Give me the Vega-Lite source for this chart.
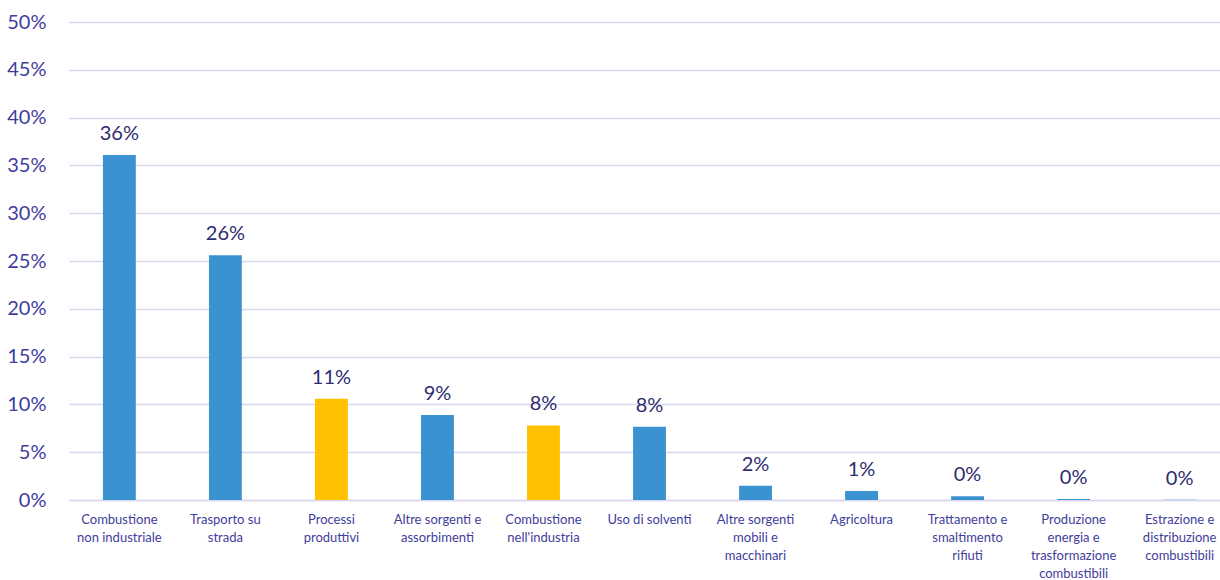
{
  "$schema": "https://vega.github.io/schema/vega-lite/v6.json",
  "width": 1220,
  "height": 580,
  "autosize": {"type": "fit", "contains": "padding"},
  "padding": {"left": 6, "top": 12, "right": -10, "bottom": 0},
  "background": "white",
  "config": {"view": {"stroke": null}, "font": "Lato"},
  "data": {
    "values": [
      {"settore": "Combustione|non industriale", "quota": 0.361, "gruppo": "altro"},
      {"settore": "Trasporto su|strada", "quota": 0.256, "gruppo": "altro"},
      {"settore": "Processi|produttivi", "quota": 0.106, "gruppo": "evidenziato"},
      {"settore": "Altre sorgenti e|assorbimenti", "quota": 0.089, "gruppo": "altro"},
      {"settore": "Combustione|nell'industria", "quota": 0.078, "gruppo": "evidenziato"},
      {"settore": "Uso di solventi", "quota": 0.0765, "gruppo": "altro"},
      {"settore": "Altre sorgenti|mobili e|macchinari", "quota": 0.015, "gruppo": "altro"},
      {"settore": "Agricoltura", "quota": 0.0095, "gruppo": "altro"},
      {"settore": "Trattamento e|smaltimento|rifiuti", "quota": 0.004, "gruppo": "altro"},
      {"settore": "Produzione|energia e|trasformazione|combustibili", "quota": 0.001, "gruppo": "altro"},
      {"settore": "Estrazione e|distribuzione|combustibili", "quota": 0.0002, "gruppo": "altro"}
    ]
  },
  "encoding": {
    "x": {
      "field": "settore",
      "type": "nominal",
      "sort": null,
      "scale": {"paddingInner": 0.69, "paddingOuter": 0.32},
      "axis": {
        "title": null,
        "labelAngle": 0,
        "labelExpr": "split(datum.label, '|')",
        "labelFontSize": 13,
        "labelLineHeight": 18,
        "labelColor": "#3F3D9C",
        "labelPadding": 13,
        "labelBaseline": "top",
        "ticks": false,
        "domain": true,
        "domainColor": "#D9D8F0",
        "domainWidth": 1.5,
        "labelLimit": 200
      }
    },
    "y": {
      "field": "quota",
      "type": "quantitative",
      "scale": {"domain": [0, 0.5]},
      "axis": {
        "title": null,
        "values": [0, 0.05, 0.1, 0.15, 0.2, 0.25, 0.3, 0.35, 0.4, 0.45, 0.5],
        "format": ".0%",
        "labelFontSize": 20,
        "labelColor": "#3F3D9C",
        "labelPadding": 23,
        "ticks": false,
        "domain": false,
        "gridColor": "#D9D8F0",
        "gridWidth": 1.5
      }
    }
  },
  "layer": [
    {
      "mark": {"type": "bar"},
      "encoding": {
        "color": {
          "field": "gruppo",
          "type": "nominal",
          "scale": {"domain": ["altro", "evidenziato"], "range": ["#3A92D0", "#FFC000"]},
          "legend": null
        }
      }
    },
    {
      "mark": {"type": "text", "baseline": "bottom", "dy": -11, "fontSize": 20, "color": "#2F2C70"},
      "encoding": {
        "text": {"field": "quota", "type": "quantitative", "format": ".0%"}
      }
    }
  ]
}
